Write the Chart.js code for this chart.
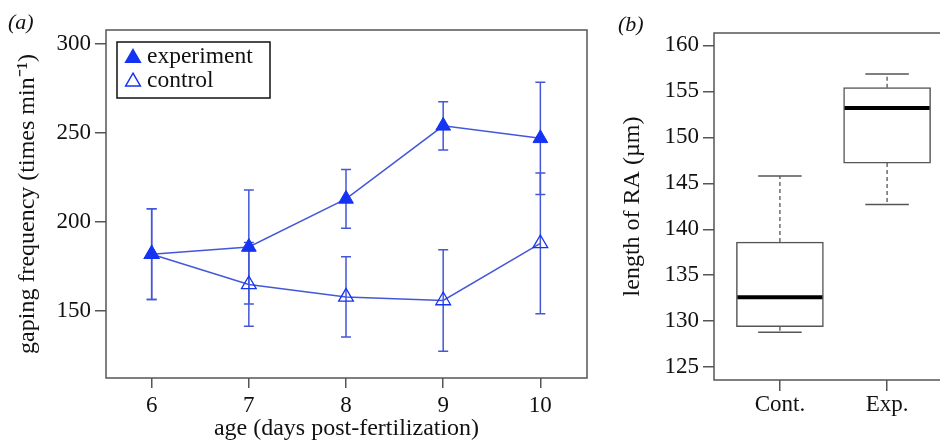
<!DOCTYPE html>
<html>
<head>
<meta charset="utf-8">
<script src="https://cdn.jsdelivr.net/npm/chart.js@4/dist/chart.umd.min.js"></script>
<style>
  html, body { margin: 0; padding: 0; background: #fff; overflow: hidden; width: 940px; height: 444px; }
  #wrapA { position: absolute; left: 0; top: 0; width: 600px; height: 444px; }
  #wrapB { position: absolute; left: 600px; top: 0; width: 360px; height: 444px; }
</style>
</head>
<body>
<div id="wrapA"><canvas id="chartA" width="600" height="444"></canvas></div>
<div id="wrapB"><canvas id="chartB" width="360" height="444"></canvas></div>
<script>
// panel (a): gaping frequency by age
const days = [6, 7, 8, 9, 10];
const expMean = [182, 186, 213, 254, 247];
const expErr = [25.5, 32, 16.5, 13.5, 31.5];
const ctrlMean = [182, 165, 158, 156, 188];
const ctrlErr = [25.5, 23.5, 22.5, 28.5, 39.5];
const yTicksA = [150, 200, 250, 300];

// panel (b): length of RA
const boxLabels = ["Cont.", "Exp."];
const boxMin = [128.8, 142.7];
const boxQ1 = [129.4, 147.2];
const boxMed = [132.6, 153.2];
const boxQ3 = [138.6, 155.4];
const boxMax = [145.8, 156.9];
const yTicksB = [125, 130, 135, 140, 145, 150, 155, 160];

const serif = "'Liberation Serif', 'Times New Roman', serif";
const ink = "#111";
const axisGrey = "#555";
const markBlue = "#1433f2";
const lineBlue = "#4457d9";

function triangle(ctx, x, y, r) {
  ctx.beginPath();
  ctx.moveTo(x, y - r);
  ctx.lineTo(x + r * 0.866, y + r * 0.5);
  ctx.lineTo(x - r * 0.866, y + r * 0.5);
  ctx.closePath();
}

// frame round the plot area + panel letter
const frame = {
  id: "frame",
  afterDraw(chart, args, opts) {
    const { ctx, chartArea: a } = chart;
    ctx.save();
    ctx.strokeStyle = axisGrey;
    ctx.lineWidth = 1.5;
    ctx.strokeRect(a.left, a.top, a.right - a.left, a.bottom - a.top);
    ctx.fillStyle = ink;
    ctx.font = "italic 22px " + serif;
    ctx.textBaseline = "middle";
    ctx.fillText(opts.text, opts.x, opts.y);
    ctx.restore();
  }
};

// vertical error bars for line datasets
const errorBars = {
  id: "errorBars",
  beforeDatasetsDraw(chart) {
    const { ctx, scales: { x, y } } = chart;
    ctx.save();
    chart.data.datasets.forEach(ds => {
      if (!ds.errors) return;
      ctx.strokeStyle = lineBlue;
      ctx.lineWidth = 1.5;
      ds.data.forEach((p, i) => {
        const px = x.getPixelForValue(p.x);
        const top = y.getPixelForValue(p.y + ds.errors[i]);
        const bot = y.getPixelForValue(p.y - ds.errors[i]);
        ctx.beginPath();
        ctx.moveTo(px, top); ctx.lineTo(px, bot);
        ctx.moveTo(px - 5, top); ctx.lineTo(px + 5, top);
        ctx.moveTo(px - 5, bot); ctx.lineTo(px + 5, bot);
        ctx.stroke();
      });
    });
    ctx.restore();
  }
};

// boxed legend in the top-left corner
const boxLegend = {
  id: "boxLegend",
  afterDraw(chart, args, opts) {
    const { ctx } = chart;
    ctx.save();
    ctx.strokeStyle = "#111";
    ctx.lineWidth = 1.5;
    ctx.strokeRect(opts.x, opts.y, opts.w, opts.h);
    ctx.font = "23.5px " + serif;
    ctx.textBaseline = "middle";
    chart.data.datasets.forEach((ds, i) => {
      const cy = opts.y + 15 + i * 23.7;
      triangle(ctx, opts.x + 16, cy + 1, 8.5);
      ctx.fillStyle = ds.pointBackgroundColor;
      ctx.fill();
      ctx.strokeStyle = ds.pointBorderColor;
      ctx.lineWidth = 1.5;
      ctx.stroke();
      ctx.fillStyle = ink;
      ctx.fillText(ds.label, opts.x + 30, cy);
    });
    ctx.restore();
  }
};

const tickFont = { family: serif, size: 23 };
const titleFont = { family: serif, size: 24 };

new Chart(document.getElementById("chartA"), {
  type: "line",
  data: {
    datasets: [
      {
        label: "experiment",
        data: days.map((d, i) => ({ x: d, y: expMean[i] })),
        errors: expErr,
        borderColor: lineBlue,
        borderWidth: 1.5,
        pointStyle: "triangle",
        pointRadius: 8.5,
        pointBackgroundColor: markBlue,
        pointBorderColor: markBlue,
        pointBorderWidth: 1,
        tension: 0
      },
      {
        label: "control",
        data: days.map((d, i) => ({ x: d, y: ctrlMean[i] })),
        errors: ctrlErr,
        borderColor: lineBlue,
        borderWidth: 1.5,
        pointStyle: "triangle",
        pointRadius: 8.5,
        pointBackgroundColor: "rgba(0,0,0,0)",
        pointBorderColor: markBlue,
        pointBorderWidth: 1.3,
        tension: 0
      }
    ]
  },
  options: {
    responsive: false,
    animation: false,
    layout: { padding: { top: 30, right: 13, left: 0, bottom: 0 } },
    plugins: {
      legend: { display: false },
      tooltip: { enabled: false },
      frame: { text: "(a)", x: 8, y: 23 },
      boxLegend: { x: 117, y: 42, w: 153, h: 56 }
    },
    scales: {
      x: {
        type: "linear",
        min: 5.53,
        max: 10.48,
        afterBuildTicks: s => { s.ticks = days.map(v => ({ value: v })); },
        afterFit: s => { s.height = 66; },
        grid: { drawOnChartArea: false, tickLength: 10, color: axisGrey, lineWidth: 1.5 },
        border: { display: false },
        ticks: { font: tickFont, color: ink, padding: 4, maxRotation: 0 },
        title: { display: true, text: "age (days post-fertilization)", font: titleFont, color: ink, padding: { top: 0, bottom: 1 } }
      },
      y: {
        min: 112.5,
        max: 307.8,
        afterBuildTicks: s => { s.ticks = yTicksA.map(v => ({ value: v })); },
        afterFit: s => { s.width = 106; },
        grid: { drawOnChartArea: false, tickLength: 11, color: axisGrey, lineWidth: 1.5 },
        border: { display: false },
        ticks: { font: tickFont, color: ink, padding: 4 },
        title: { display: true, text: "gaping frequency (times min\u207B\u00B9)", font: titleFont, color: ink, padding: { top: 13, bottom: 0 } }
      }
    }
  },
  plugins: [frame, errorBars, boxLegend]
});

// whiskers and medians for the box plot
const boxParts = {
  id: "boxParts",
  afterDatasetsDraw(chart) {
    const { ctx, scales: { x, y } } = chart;
    const half = 43.5;
    ctx.save();
    boxLabels.forEach((l, i) => {
      const px = x.getPixelForValue(i + 1);
      ctx.strokeStyle = axisGrey;
      ctx.lineWidth = 1.3;
      ctx.setLineDash([4, 3]);
      ctx.beginPath();
      ctx.moveTo(px, y.getPixelForValue(boxQ3[i])); ctx.lineTo(px, y.getPixelForValue(boxMax[i]));
      ctx.moveTo(px, y.getPixelForValue(boxQ1[i])); ctx.lineTo(px, y.getPixelForValue(boxMin[i]));
      ctx.stroke();
      ctx.setLineDash([]);
      ctx.lineWidth = 1.5;
      ctx.beginPath();
      ctx.moveTo(px - half / 2, y.getPixelForValue(boxMax[i])); ctx.lineTo(px + half / 2, y.getPixelForValue(boxMax[i]));
      ctx.moveTo(px - half / 2, y.getPixelForValue(boxMin[i])); ctx.lineTo(px + half / 2, y.getPixelForValue(boxMin[i]));
      ctx.stroke();
      ctx.strokeStyle = "#000";
      ctx.lineWidth = 4;
      ctx.beginPath();
      ctx.moveTo(px - half + 1, y.getPixelForValue(boxMed[i]));
      ctx.lineTo(px + half - 1, y.getPixelForValue(boxMed[i]));
      ctx.stroke();
    });
    ctx.restore();
  }
};

new Chart(document.getElementById("chartB"), {
  type: "bar",
  data: {
    datasets: [{
      data: boxLabels.map((l, i) => ({ x: i + 1, y: [boxQ1[i], boxQ3[i]] })),
      backgroundColor: "#fff",
      borderColor: axisGrey,
      borderWidth: 1.5,
      borderSkipped: false,
      barThickness: 87
    }]
  },
  options: {
    responsive: false,
    animation: false,
    layout: { padding: { top: 33, right: 7, left: 0, bottom: 0 } },
    plugins: {
      legend: { display: false },
      tooltip: { enabled: false },
      frame: { text: "(b)", x: 18, y: 25 }
    },
    scales: {
      x: {
        type: "linear",
        min: 0.385,
        max: 2.615,
        offset: false,
        afterBuildTicks: s => { s.ticks = boxLabels.map((l, i) => ({ value: i + 1 })); },
        afterFit: s => { s.height = 64; },
        grid: { offset: false, drawOnChartArea: false, tickLength: 11, color: axisGrey, lineWidth: 1.5 },
        border: { display: false },
        ticks: { font: tickFont, color: ink, padding: 0, maxRotation: 0, callback: v => boxLabels[v - 1] }
      },
      y: {
        min: 123.6,
        max: 161.35,
        afterBuildTicks: s => { s.ticks = yTicksB.map(v => ({ value: v })); },
        afterFit: s => { s.width = 114; },
        grid: { drawOnChartArea: false, tickLength: 11, color: axisGrey, lineWidth: 1.5 },
        border: { display: false },
        ticks: { font: tickFont, color: ink, padding: 4 },
        title: { display: true, text: "length of RA (\u00B5m)", font: titleFont, color: ink, padding: { top: 18, bottom: 0 } }
      }
    }
  },
  plugins: [frame, boxParts]
});
</script>
</body>
</html>
